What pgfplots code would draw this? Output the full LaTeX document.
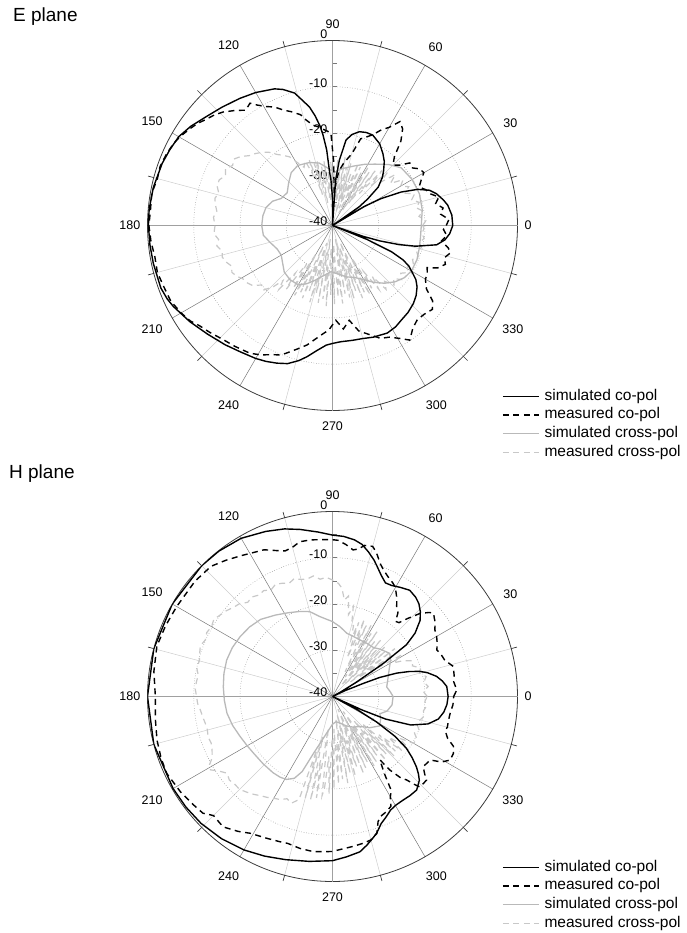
\documentclass[border=0pt]{standalone}
\usepackage{fontspec}
\setmainfont{Liberation Sans}
\usepackage{pgfplots}
\usepackage{pgfplotstable}
\usepgfplotslibrary{polar}
\pgfplotsset{compat=1.18}
\definecolor{gmaj}{RGB}{120,120,120}
\definecolor{gmin}{RGB}{205,205,205}
\definecolor{xsim}{RGB}{185,185,185}
\definecolor{xmeas}{RGB}{200,200,200}
\definecolor{axl}{RGB}{60,60,60}

% ---------------- E plane data (angle deg, dB) ----------------
\pgfplotstableread{
0 -14.0
5 -14.1
10 -14.7
13 -15.4
17 -16.5
20 -17.7
23 -20.0
26 -23.5
29 -28
31 -32
33 -40
35 -33
37 -30.5
40 -27.1
44 -25
47 -23.8
51 -22.2
55 -21.0
60 -19.6
66 -18.6
70 -18.6
74 -18.9
78 -19.9
81 -21.3
84 -25.8
86 -30
88 -40
90 -34
92 -30
93 -28.7
94.4 -23.6
96 -20.3
97 -18.5
99 -16
101 -13.9
104 -11.8
106 -10.2
110 -8.7
113 -7.9
120 -6.8
126 -6.0
133 -5.0
139 -4.0
145 -2.6
150 -1.6
155 -1.2
160 -0.8
168 -0.4
175 -0.2
180 -0.2
186 -0.3
192 -0.4
200 -0.5
204 -0.9
207 -1.4
214 -2.8
221 -4.2
228 -5.3
234 -6.2
240 -6.8
244 -7.3
248 -7.9
252 -8.6
256 -9.9
259 -11.1
263 -12.8
267 -14.1
270 -14.5
274 -14.8
280 -14.8
285 -14.7
290 -14.3
297 -13.9
302 -14.2
306 -14.7
311 -15.1
316 -15.7
320 -16.4
324 -17.4
327 -18.5
329 -19.7
332 -21.3
334 -23
336 -26
338 -32
339 -40
340.5 -33
342 -29.2
344 -25
346 -21.5
349.5 -17.1
352.7 -15.5
356 -14.6
360 -14.0
}\Esc

\pgfplotstableread{
0 -15.4
3 -14.8
6 -16.5
9 -15.8
12 -17.2
15 -16.2
18 -17.8
21 -18.4
24 -19.5
27 -18.5
30 -17.2
33 -17.5
36 -18.8
39 -18.5
42 -20.5
45 -21.5
48 -20
51 -16.5
54 -14.2
57 -13.2
60 -15.5
63 -16.8
66 -18.5
69 -19.5
72 -20.3
75 -24
78 -25.5
80 -26.4
83 -28
85 -30
87 -33
89 -26
91 -20
93 -19.6
95 -19.2
98 -18.5
101 -17.9
104 -16.5
106 -15.1
110 -13.8
113 -12.9
116 -11.5
119 -10.6
122 -9.3
124 -8.1
127 -8.8
130 -7.5
134 -5.9
137 -5
140 -4.3
143 -3.4
146 -2.7
150 -1.8
153 -1.3
157 -0.9
161 -0.6
165 -0.8
170 -0.3
175 -0.5
180 -0.3
185 -0.6
190 -1.0
195 -0.8
200 -1.2
205 -1.4
210 -2.2
214 -3.0
217 -4
221 -4.8
226 -5.8
231 -6.4
237 -7.1
241 -8
245 -9.2
248 -9.8
250 -10.6
254 -12.2
258 -13.6
262 -15.4
265 -16.5
268 -17.4
272 -19.5
276 -17.5
280 -19.2
284 -16.5
289 -15
293 -13.5
297 -12.9
301 -11.5
304 -10.1
308 -11.8
312 -12.6
316 -12.4
320 -11.8
323 -12.9
326 -15.5
330 -16.8
333 -17
336 -17.6
338 -15.5
341 -14.2
344 -14.8
347 -13.8
349 -14.5
352 -16.2
355 -15.2
358 -16
360 -15.4
}\Emc

\pgfplotstableread{
0 -20.8
10 -20.3
20 -20.0
30 -20.1
40 -20.6
47 -22
55 -23.8
62 -25
70 -26.3
80 -27.5
88 -28.5
95 -27.5
102 -26.2
110 -25.5
120 -25
128 -25.5
136 -26.8
144 -27.9
152 -27.5
158 -26
165 -25.1
172 -24.8
180 -24.7
188 -24.9
195 -26
203 -27
210 -27.2
217 -26.5
224 -25.5
232 -25.1
240 -25.2
246 -26.2
252 -27.5
260 -29
268 -30
276 -29.5
285 -28.5
293 -27.8
300 -26.5
306 -24.8
312 -23.2
318 -21.8
324 -20.8
330 -20.3
338 -20.3
345 -20.6
352 -20.8
360 -20.8
}\Esx

\pgfplotstableread{
0 -20.5
3 -19.8
6 -21.2
9 -20.2
12 -21.5
15 -20.6
18 -22
21 -21
24 -22.8
27 -21.5
30 -23
33 -21.8
36 -24.5
39 -22.5
42 -26
44 -23.5
46 -28
48 -24
50 -31
52 -25
54 -34
55.5 -26
57 -36
58.5 -25
60 -33
61.5 -27
63 -37
64.5 -26
66 -32
67.5 -25.5
69 -36
70.5 -28
72 -34
73.5 -26
75 -37
76.5 -27
78 -33
79.5 -25
81 -36
82.5 -27.5
84 -34
85.5 -25.5
87 -37
88.5 -27
90 -33
91.5 -26
93 -36
94.5 -28
96 -34
97.5 -26
99 -31
100.5 -27
102 -35
103.5 -25.5
105 -30
106.5 -26
108 -33
109.5 -25
111 -28
113 -24.8
116 -26
119 -24.5
122 -22.5
125 -21.5
128 -20.5
131 -19
134 -18
137 -17.2
140 -16.5
143 -15.2
146 -14.3
149 -14.8
152 -13.8
155 -14.5
158 -13.6
161 -13.6
164 -14.4
167 -13.9
170 -14.3
173 -14.8
176 -14.2
180 -14.6
184 -14.3
187 -15.2
190 -14.6
193 -15.5
196 -15.2
199 -15.7
202 -16.5
205 -16
208 -16.6
211 -17.5
214 -17.8
217 -18.4
220 -20
223 -19.5
226 -21.6
228 -24
230 -22
232 -27
234 -23
236 -30
238 -24
240 -33
241.5 -22.8
243 -29
244.5 -24
246 -35
247.5 -23
249 -31
250.5 -25
252 -36
253.5 -22.7
255 -30
256.5 -25
258 -34
259.5 -23
261 -37
262.5 -24
264 -31
265.5 -22.5
267 -35
268.5 -25
270 -32
271.5 -23
273 -36
274.5 -24.5
276 -30
277.5 -23
279 -34
280.5 -25
282 -37
283.5 -24
285 -31
286.5 -23.5
288 -35
289.5 -25
291 -32
292.5 -23
294 -36
295.5 -24
297 -30
298.5 -23
300 -33
302 -24
304 -28
306 -23
308 -26
310 -22
313 -23.5
316 -21.5
319 -22.5
322 -21
325 -22
328 -20.8
331 -21.5
334 -20.5
337 -21.2
340 -20.3
343 -21
346 -20.2
349 -20.8
352 -20
355 -20.6
358 -20.2
360 -20.5
}\Emx

% ---------------- H plane data ----------------
\pgfplotstableread{
0 -15.0
5 -15.2
8 -16
11 -17.1
14 -18.8
16 -20.3
18 -22.5
20 -25.2
22 -29
23 -32.7
25 -37
27 -40
29 -38
31 -34
33 -27
35 -20.5
37.5 -17.5
41 -14.9
44 -13.6
47 -12.6
50 -12
54 -11.6
58 -12.2
62 -12.8
65 -12.9
68 -11.8
71 -10.3
73 -9.2
76 -7.8
79 -6.5
82 -5.8
86 -5.3
90 -5.1
95 -4.3
101 -3.2
106 -2.3
112 -1.5
120 -0.5
128 -0.1
135 0
150 0
165 0
180 0
195 0
210 -0.2
217 -0.3
224 -0.5
232 -1.0
240 -1.7
247 -2.5
254 -3.3
262 -4.0
270 -4.5
275 -5.2
280 -5.9
283 -7
286 -8.2
288 -9
291 -10.6
294 -11.5
297 -12.4
300 -12.8
304 -12.9
308 -12.8
312 -12.8
316 -13.9
318 -15
320 -16.3
322.5 -18.3
325 -20.5
327.5 -24
330 -29
332 -34
334 -40
335.5 -33
337 -27.5
340 -22
344 -18.5
348 -16.6
352 -15.7
356 -15.2
360 -15.0
}\Hsc

\pgfplotstableread{
0 -13.8
3 -13.1
7 -13.6
10 -13.3
14 -13.1
18 -14.5
22 -14.9
24 -15.3
27 -14.6
30 -14.0
33 -13.6
36 -12.6
39.5 -11.7
41 -12.3
43.5 -13.9
46 -16.5
48 -18.5
50 -18.8
52 -17
54.5 -16.1
57 -14.5
60 -12.8
62 -12.2
65 -11.5
68 -10.5
70 -9.6
73 -7.5
75 -6.4
78 -6.6
80 -7.6
82 -8
85 -7
88 -6.2
90 -6.1
94 -6.0
98 -5.8
102 -5.8
105 -6.6
108 -6.9
111 -6.2
115 -5.0
118 -4.6
123 -3.7
128 -2.6
133 -1.5
140 -1.2
150 -1.1
157 -0.8
164 -0.5
172 -1.0
180 -1.7
187 -1.4
194 -0.9
200 -0.6
205 -0.5
212 -1.2
218 -1.9
222 -2.3
225 -3.6
230 -3.2
235 -4.4
239 -5.5
245 -6.2
250 -6.6
253 -6.8
258 -6.4
263 -6.2
267 -6.4
270 -6.5
274 -7.0
278 -7.3
282 -7.6
285 -7.9
288 -8.9
290 -11.2
292 -12.1
295 -12.5
298 -13.1
300 -15
302 -16
304 -20
306.8 -22.9
308 -19.8
310 -17
311.6 -15.9
313 -14
314 -12.8
316 -12.8
318.4 -12.8
320 -14
322.3 -15.2
325 -15
327 -14.8
329 -12.5
331.6 -11.1
334.8 -11.1
337.6 -11.7
340 -13.5
343 -14.5
345.2 -14.3
348 -14.4
352 -14.3
356 -13.9
360 -13.8
}\Hmc

\pgfplotstableread{
0 -26.9
5 -27.5
10 -28.1
17 -27.5
25 -26.5
32 -25.2
37 -24.5
45 -25.5
50 -26.2
57 -26.3
65 -26.4
72 -26.2
77 -26
84 -24.8
90 -23.8
99 -22.5
105 -21
111 -20.3
118 -19.5
125 -18.5
133 -17.2
140 -16.6
147 -16.2
154 -15.9
161 -15.8
168 -16
175 -16.3
182 -16.6
189 -16.9
196 -17.5
203 -18.2
210 -18.7
216 -19
224 -19.1
232 -19.1
237 -19.2
241 -19.5
245 -20.5
248 -22.5
251.5 -27
256 -30
261 -32
270 -34
278 -34.5
286 -34
295 -33
304 -32
312.7 -31.2
320 -29.5
328 -28
335 -28.5
340 -29.1
345 -27.8
352 -27
360 -26.9
}\Hsx

\pgfplotstableread{
0 -19.5
3 -20.3
6 -19.2
9 -20
12 -19.3
15 -20.5
18 -20
21 -21.5
24 -21
27 -23
29 -25
31 -22.5
33 -30
34.5 -24
36 -33
37.5 -23
39 -35
40.5 -25
42 -31
43.5 -24.5
45 -36
46.5 -26
48 -32
49.5 -24
51 -37
52.5 -25
54 -33
55.5 -23
57 -35
58.5 -24
60 -30
61.5 -22.5
63 -34
64.5 -23
66 -28
67.5 -22
69 -31
70.5 -23
72 -27
73.5 -24
75 -24
77 -20
79 -22
81 -18
83 -19
85 -16.5
87 -15.5
90 -14.8
93 -14.2
96 -14.5
99 -13.6
102 -14
105 -13.8
108 -13.2
111 -13.8
114 -13.2
117 -12.8
120 -13.4
123 -12.7
126 -12.9
129 -12.3
132 -12.6
135 -11.6
138 -11.2
141 -10.5
144 -10
147 -9.4
150 -9.8
153 -9.5
156 -9.9
159 -9.4
162 -9.8
165 -10.2
168 -10
171 -10.6
174 -10.4
177 -10.3
180 -10.6
183 -10.8
186 -11.3
189 -11.6
192 -11.9
195 -12
198 -11.7
201 -11.9
204 -11.5
207 -10.8
209 -9.6
211 -9.2
213 -10.5
216 -11.8
219 -11.3
222 -11.6
225 -11.6
228 -12.2
231 -12.8
234 -13.5
237 -14
240 -14.6
243 -15
246 -15.8
249 -15.3
252 -16.6
253.5 -28
255 -17.3
256.5 -31
258 -17.1
259.5 -26
261 -17.8
262.5 -33
264 -18.5
265 -20
266.5 -27
268 -19
269.5 -31
271 -20
272.5 -33
274 -21
275.5 -30
277 -22
278.5 -35
280 -21
281.5 -32
283 -23
284.5 -36
286 -22
287.5 -30
289 -24
290.5 -34
292 -22
293.5 -37
295 -23
296.5 -31
298 -24
299.5 -35
301 -22.5
302.5 -32
304 -23
305.5 -36
307 -24
308.5 -30
310 -22
311.5 -33
313 -23
314.5 -29
316 -21.5
317.5 -31
319 -22
320.5 -27
322 -21
324 -25
326 -20.5
328 -23
330 -19.8
333 -19.5
336 -20.6
339 -20
342 -20.8
345 -20.4
348 -19.7
351 -20.1
354 -19.6
357 -20
360 -19.5
}\Hmx

\tikzset{
  simco/.style={black, line width=1.4pt},
  measco/.style={black, line width=1.4pt, dash pattern=on 6pt off 4.5pt},
  simx/.style={xsim, line width=1.3pt},
  measx/.style={xmeas, line width=1.2pt, dash pattern=on 6pt off 4.5pt},
  rlab/.style={font=\fontsize{12.5}{14}\selectfont, anchor=east, inner sep=0pt, xshift=-5pt, yshift=4pt},
}

\pgfplotsset{
  plane/.style={
    scale only axis, width=370pt, height=370pt,
    xmin=0, xmax=360, ymin=0, ymax=40,
    clip mode=individual,
    xtick={0,30,...,330},
    xticklabels={0,30,60,90,120,150,180,210,240,270,300,330},
    minor xtick={15,45,...,345},
    ytick={10,20,30}, yticklabels={},
    xmajorgrids, xminorgrids, ymajorgrids,
    major x grid style={gmaj, line width=0.5pt},
    minor x grid style={gmin, line width=0.5pt},
    major y grid style={gmaj, line width=0.5pt, dotted},
    axis line style={axl, line width=0.8pt},
    x tick style={axl, line width=0.7pt},
    major tick length=0pt, minor tick length=6pt, tick align=inside,
    y tick style={draw=none},
    xticklabel style={font=\fontsize{12.5}{14}\selectfont, inner xsep=7pt, inner ysep=11.5pt},
    legend cell align=left,
    legend image code/.code={\draw[##1] (0pt,0pt) -- (36pt,0pt);},
    legend style={draw=none, fill=none, at={(0.958,0.064)}, anchor=north west,
      inner sep=0pt, row sep=0pt,
      font=\fontsize{15.5}{17}\selectfont,
      nodes={inner sep=2pt, text height=11.2pt, text depth=3.5pt, anchor=west},
      /tikz/every odd column/.append style={column sep=3pt}},
  },
}

\newcommand{\deco}{%
  \draw[gmaj!70, line width=1.1pt] (axis cs:0,40) -- (axis cs:180,40);
  \draw[gmaj!70, line width=1.1pt] (axis cs:90,40) -- (axis cs:270,40);
  \pgfplotsinvokeforeach{5,10,15,20,25,30,35}{\draw[gmaj, line width=0.6pt] (axis cs:90,##1) -- ++(4pt,0pt);}
  \node[rlab] at (axis cs:90,0) {-40};
  \node[rlab] at (axis cs:90,10) {-30};
  \node[rlab] at (axis cs:90,20) {-20};
  \node[rlab] at (axis cs:90,30) {-10};
  \node[rlab, yshift=2pt] at (axis cs:90,40) {0};
}

\begin{document}
\begin{tikzpicture}
\useasboundingbox (0pt,0pt) rectangle (687pt,-933pt);
\node[anchor=west, inner sep=0pt, font=\fontsize{19}{22}\selectfont] at (13pt,-17pt) {E plane};
\node[anchor=west, inner sep=0pt, font=\fontsize{19}{22}\selectfont] at (9pt,-474pt) {H plane};

\begin{polaraxis}[plane, at={(332.5pt,-225.5pt)}, anchor=center]
\deco
\addlegendimage{simco}\addlegendentry{simulated co-pol}
\addlegendimage{measco}\addlegendentry{measured co-pol}
\addlegendimage{simx}\addlegendentry{simulated cross-pol}
\addlegendimage{measx}\addlegendentry{measured cross-pol}
\addplot[measx, forget plot] table[x index=0, y expr=\thisrowno{1}+40] {\Emx};
\addplot[simx, forget plot] table[x index=0, y expr=\thisrowno{1}+40] {\Esx};
\addplot[measco, forget plot] table[x index=0, y expr=\thisrowno{1}+40] {\Emc};
\addplot[simco, forget plot] table[x index=0, y expr=\thisrowno{1}+40] {\Esc};
\end{polaraxis}

\begin{polaraxis}[plane, at={(332.5pt,-696.5pt)}, anchor=center]
\deco
\addlegendimage{simco}\addlegendentry{simulated co-pol}
\addlegendimage{measco}\addlegendentry{measured co-pol}
\addlegendimage{simx}\addlegendentry{simulated cross-pol}
\addlegendimage{measx}\addlegendentry{measured cross-pol}
\addplot[measx, forget plot] table[x index=0, y expr=\thisrowno{1}+40] {\Hmx};
\addplot[simx, forget plot] table[x index=0, y expr=\thisrowno{1}+40] {\Hsx};
\addplot[measco, forget plot] table[x index=0, y expr=\thisrowno{1}+40] {\Hmc};
\addplot[simco, forget plot] table[x index=0, y expr=\thisrowno{1}+40] {\Hsc};
\end{polaraxis}
\end{tikzpicture}
\end{document}
